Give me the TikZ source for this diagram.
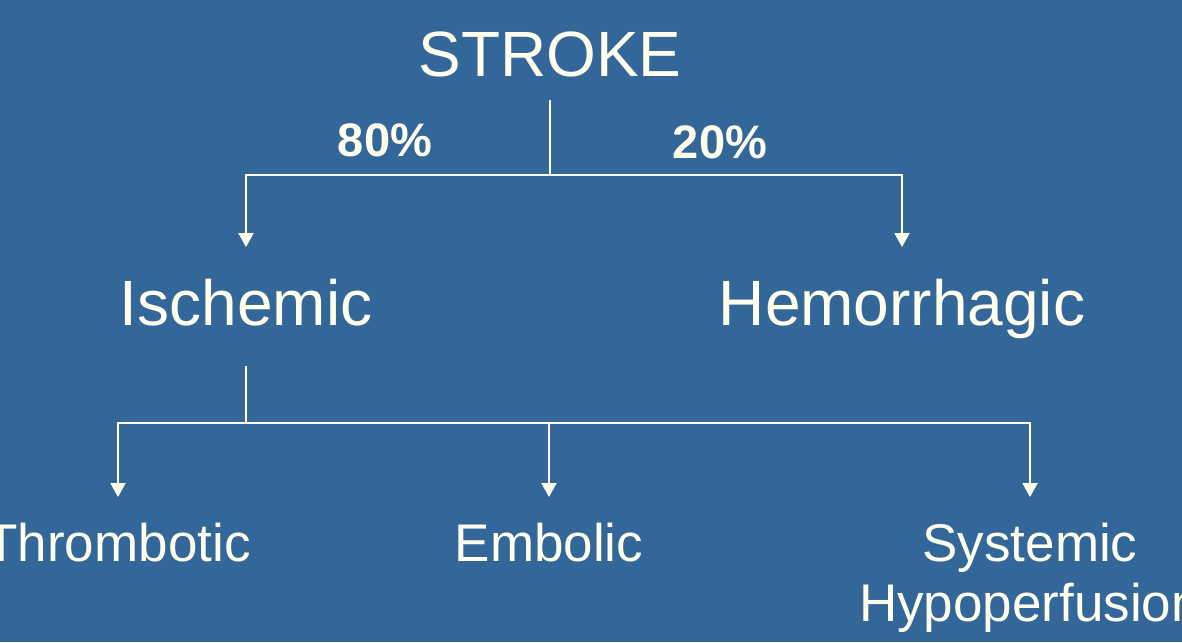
\documentclass[tikz,border=0pt]{standalone}
\usepackage{fontspec}
\setmainfont{Liberation Sans}
\usetikzlibrary{arrows.meta}
\definecolor{slideblue}{RGB}{51,102,153}
\definecolor{cream}{RGB}{255,255,236}
\begin{document}
\begin{tikzpicture}[x=0.5pt, y=-0.5pt,
    conn/.style={draw=cream, line width=1pt},
    arr/.style={conn, -{Triangle[width=7.5pt,length=7pt]}},
    topnode/.style={text=cream, font=\fontsize{32}{36}\selectfont, anchor=base, inner xsep=0pt, inner ysep=11pt},
    levelnode/.style={text=cream, font=\fontsize{32}{36}\selectfont, anchor=base, inner xsep=0pt, inner ysep=15.6pt},
    leafnode/.style={text=cream, font=\fontsize{26.5}{30}\selectfont, anchor=north, align=center, inner xsep=0pt, inner ysep=13pt},
    pct/.style={text=cream, font=\fontsize{23.5}{26}\selectfont\bfseries}]
    % 背景
    \useasboundingbox (0,0) rectangle (1182,642);
    \fill[slideblue] (0,0) rectangle (1182,642);
    % 節点
    \node[topnode] (stroke) at (550,77) {STROKE};
    \node[levelnode] (isch) at (246,325) {Ischemic};
    \node[levelnode] (hemo) at (902,325) {Hemorrhagic};
    \node[leafnode] (thromb) at (118,497) {Thrombotic};
    \node[leafnode] (embol) at (549,497) {Embolic};
    \node[leafnode] (syst) at (1030,497) {Systemic\\Hypoperfusion};
    \node[pct] (pisch) at (385,140) {80\%};
    \node[pct] (phemo) at (720,142) {20\%};
    % 分岐点
    \coordinate (splitA) at (550,175);
    \coordinate (splitB) at (246,423);
    % 線
    \draw[conn] (stroke.south) -- (splitA);
    \draw[arr] (splitA) -| (isch.north);
    \draw[arr] (splitA) -| (hemo.north);
    \draw[conn, shorten <=4.5pt] (isch.south) -- (splitB);
    \draw[arr] (splitB) -| (thromb.north);
    \draw[arr] (splitB) -| (embol.north);
    \draw[arr] (splitB) -| (syst.north);
\end{tikzpicture}
\end{document}
